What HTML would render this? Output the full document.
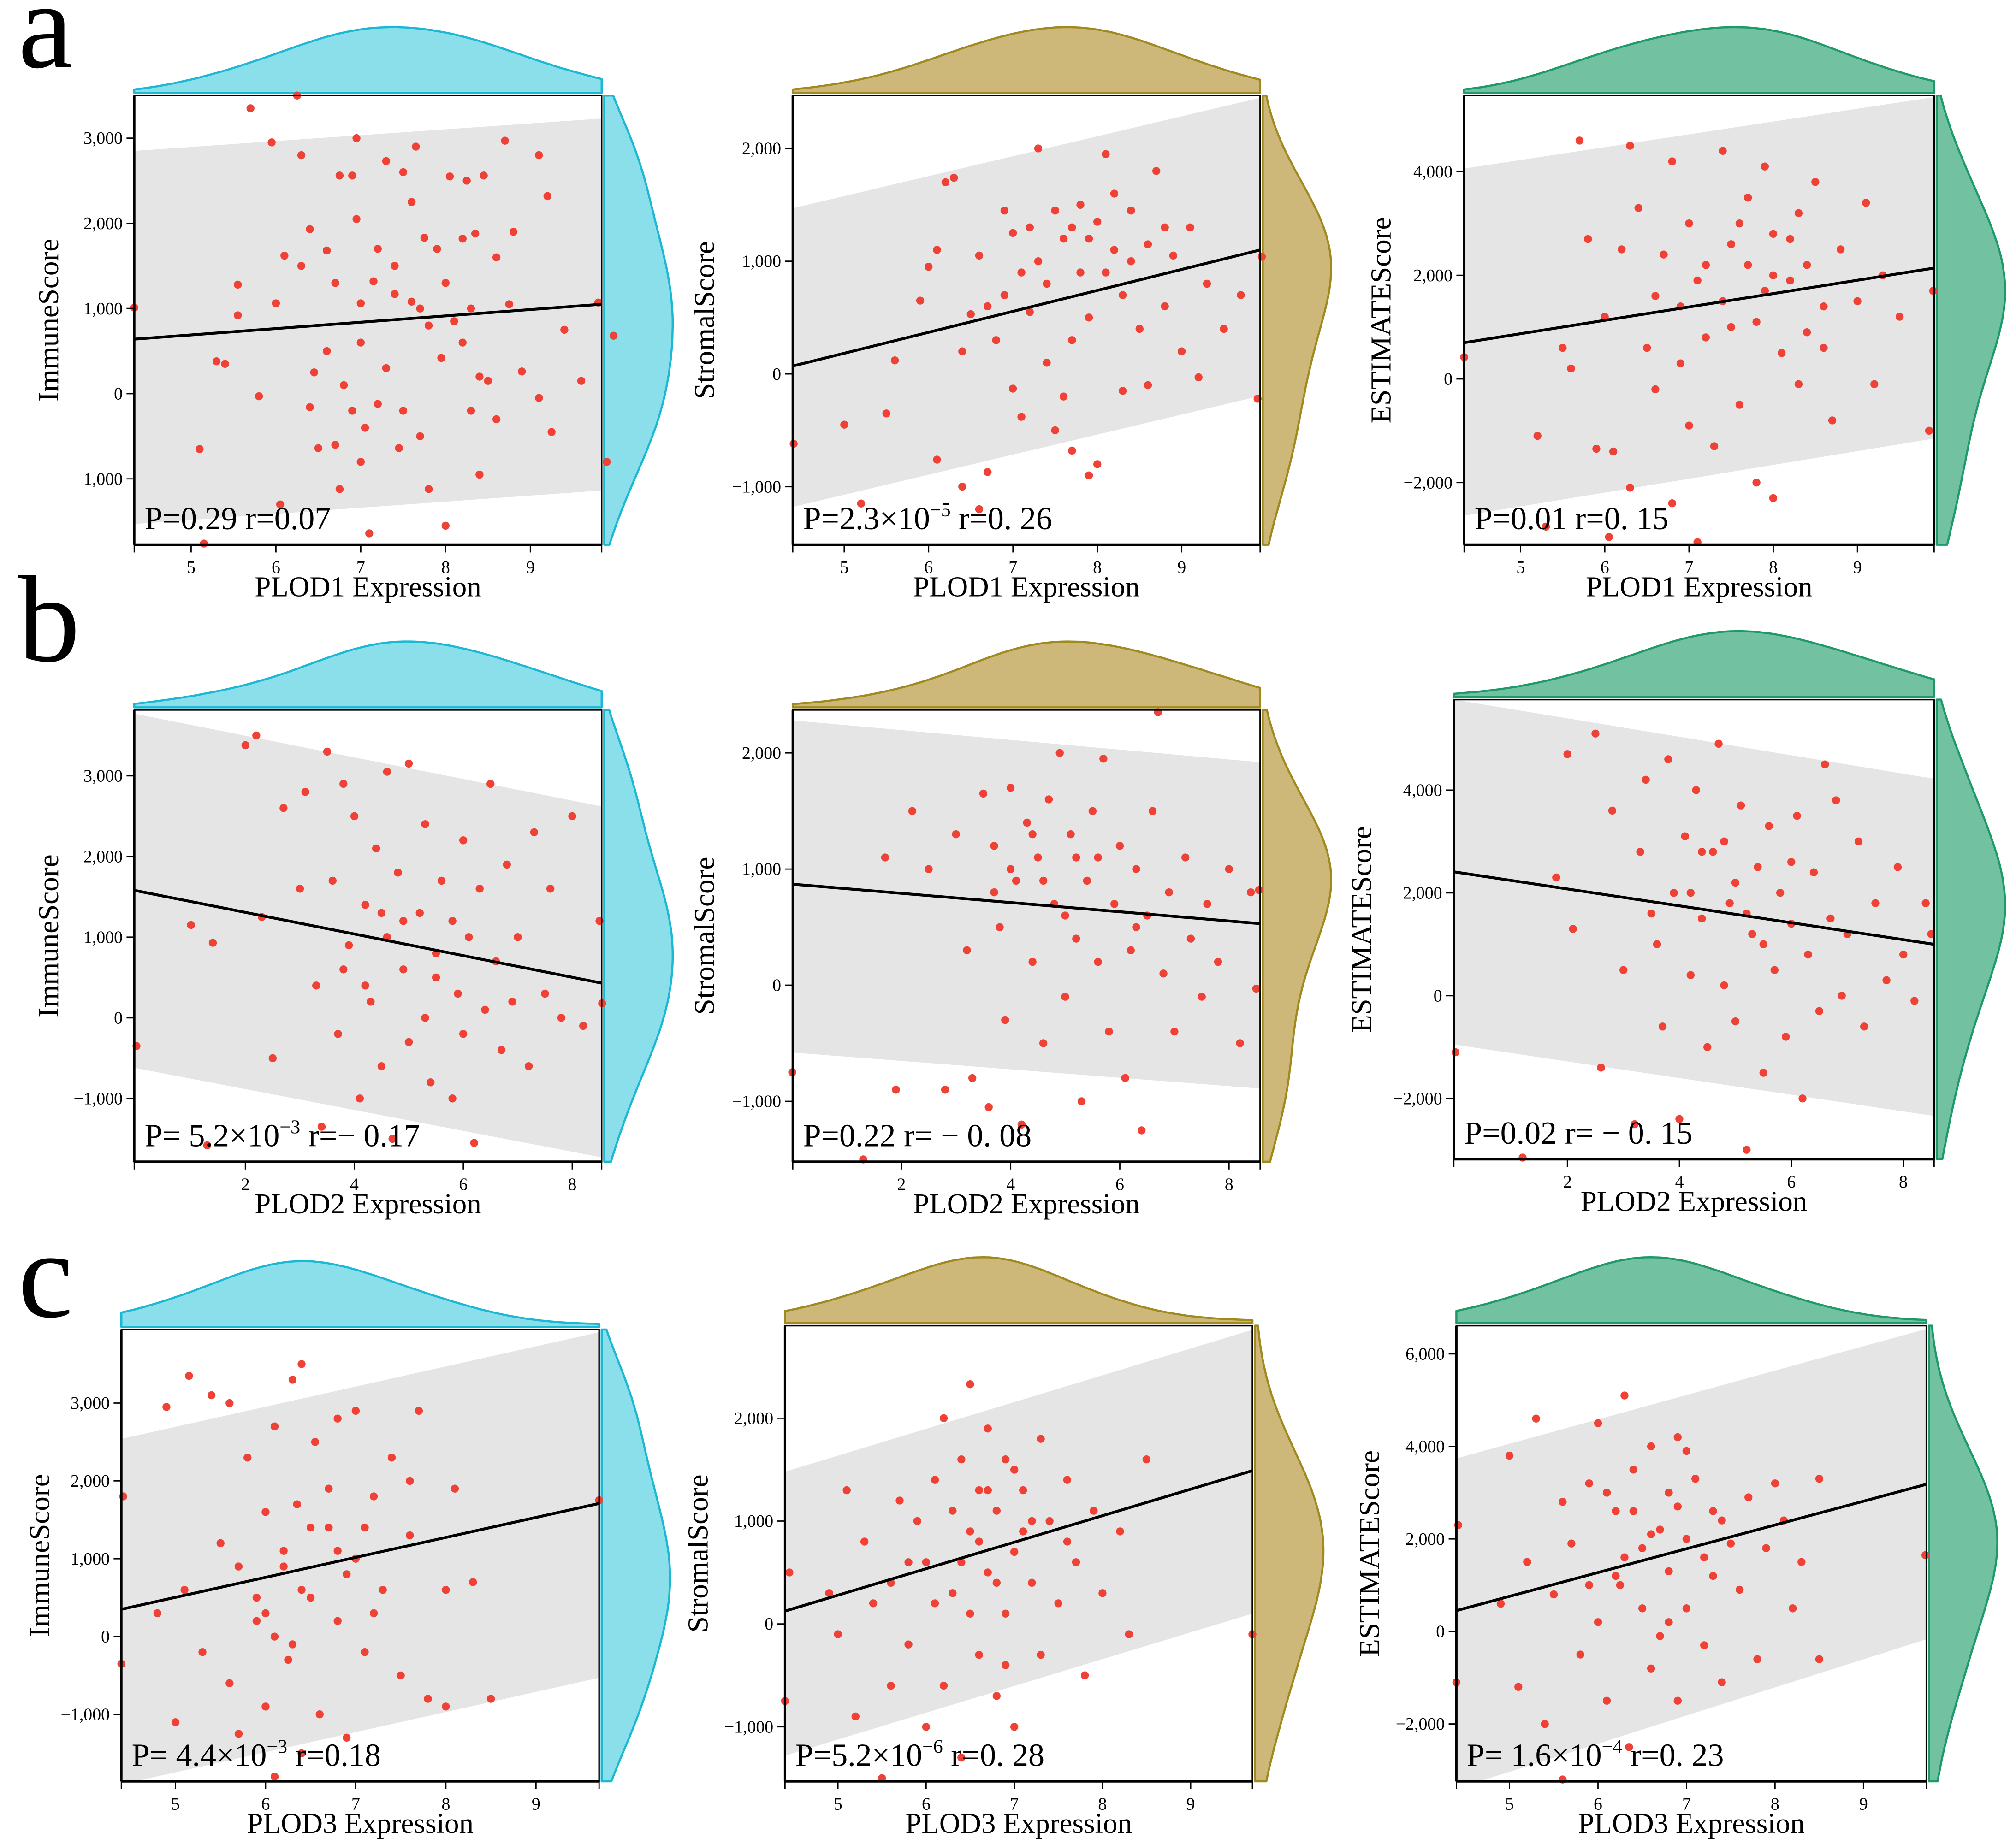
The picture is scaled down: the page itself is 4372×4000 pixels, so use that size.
<!DOCTYPE html>
<html><head><meta charset="utf-8">
<style>
html,body{margin:0;padding:0;background:#fff;}
svg{display:block;}
text{font-family:"Liberation Serif",serif;fill:#000;}
</style></head>
<body>
<svg id="fig" width="4372" height="4000" viewBox="0 0 1561.43 1428.57" xmlns="http://www.w3.org/2000/svg"></svg>
<script>
// ---- data ----
const panelIds = ['a1','a2','a3','b1','b2','b3','c1','c2','c3'];
const xTitles = ['PLOD1 Expression','PLOD1 Expression','PLOD1 Expression','PLOD2 Expression','PLOD2 Expression','PLOD2 Expression','PLOD3 Expression','PLOD3 Expression','PLOD3 Expression'];
const yTitles = ['ImmuneScore','StromalScore','ESTIMATEScore','ImmuneScore','StromalScore','ESTIMATEScore','ImmuneScore','StromalScore','ESTIMATEScore'];
const xDomains = [[4.33,9.84],[4.39,9.93],[4.33,9.91],[-0.04,8.54],[0.01,8.57],[-0.03,8.55],[4.4,9.7],[4.4,9.7],[4.4,9.71]];
const yDomains = [[-1773,3500],[-1515,2470],[-3200,5470],[-1784,3816],[-1520,2370],[-3180,5760],[-1860,3945],[-1530,2900],[-3240,6610]];
const xTickSets = [[5,6,7,8,9],[5,6,7,8,9],[5,6,7,8,9],[2,4,6,8],[2,4,6,8],[2,4,6,8],[5,6,7,8,9],[5,6,7,8,9],[5,6,7,8,9]];
const yTickSets = [[-1000,0,1000,2000,3000],[-1000,0,1000,2000],[-2000,0,2000,4000],[-1000,0,1000,2000,3000],[-1000,0,1000,2000],[-2000,0,2000,4000],[-1000,0,1000,2000,3000],[-1000,0,1000,2000],[-2000,0,2000,4000,6000]];
const fitLines = [[640,1050],[70,1100],[700,2140],[1580,430],[870,530],[2410,1000],[350,1710],[125,1490],[450,3180]];
const bandUpper = [[2850,3230],[1470,2450],[4060,5440],[3770,2620],[2280,1920],[5760,4220],[2540,3910],[1480,2860],[3740,6540]];
const bandLower = [[-1530,-1136],[-1180,-195],[-2640,-1150],[-620,-1730],[-580,-890],[-950,-2340],[-1900,-530],[-1280,100],[-3400,-170]];
const statP = ['0.29','2.3×10','0.01',' 5.2×10','0.22','0.02',' 4.4×10','5.2×10',' 1.6×10'];
const statExp = ['','−5','','−3','','','−3','−6','−4'];
const statR = ['r=0.07','r=0. 26','r=0. 15','r=− 0.17','r= − 0. 08','r= − 0. 15','r=0.18','r=0. 28','r=0. 23'];
const ptsA1 = [[5.1,-650],[5.15,-1760],[5.3,380],[5.4,350],[5.55,1280],[5.7,3350],[5.55,920],[5.8,-30],[5.95,2950],[6.0,1060],[6.05,-1300],[6.1,1620],[6.25,3500],[6.3,2800],[6.4,1930],[6.4,-160],[6.45,250],[6.5,-640],[6.6,1680],[6.7,1300],[6.75,2560],[6.7,-600],[6.75,-1120],[6.9,2560],[6.95,3000],[6.95,2050],[7.0,1060],[7.05,-400],[7.1,-1640],[7.15,1320],[7.2,-120],[7.3,2730],[7.4,1170],[7.45,-640],[7.5,2600],[7.6,1080],[7.6,2250],[7.65,2900],[7.7,-500],[7.75,1830],[7.8,-1120],[7.9,1700],[7.95,420],[8.0,-1550],[8.05,2550],[8.1,850],[8.2,1820],[8.25,2500],[8.3,-200],[8.35,1880],[8.4,-950],[8.45,2560],[8.5,150],[8.6,1600],[8.7,2970],[8.75,1050],[8.8,1900],[8.9,260],[9.1,2800],[9.1,-50],[9.2,2320],[9.25,-450],[9.4,750],[9.6,150],[9.8,1070],[9.9,-800],[9.98,680],[4.33,1010],[7.0,600],[7.3,300],[6.9,-200],[7.8,800],[8.2,600],[7.5,-200],[6.6,500],[8.4,200],[7.2,1700],[8.0,1300],[6.3,1500],[7.0,-800],[8.6,-300],[6.8,100],[7.7,1000],[8.3,1000],[7.4,1500]];
const ptsA2 = [[4.4,-620],[5.0,-450],[5.2,-1150],[5.5,-350],[5.6,120],[5.9,650],[6.0,950],[6.1,-760],[6.1,1100],[6.2,1700],[6.3,1740],[6.4,-1000],[6.5,530],[6.6,-1200],[6.6,1050],[6.7,-870],[6.8,300],[6.9,1450],[7.0,1250],[7.0,-130],[7.1,-380],[7.2,1300],[7.2,550],[7.3,2000],[7.4,800],[7.5,1450],[7.5,-500],[7.6,1200],[7.7,-680],[7.7,300],[7.8,1500],[7.8,900],[7.9,-900],[8.0,1350],[8.0,-800],[8.1,1950],[8.2,1100],[8.3,-150],[8.3,700],[8.4,1450],[8.5,400],[8.6,1150],[8.6,-100],[8.7,1800],[8.8,600],[8.9,1050],[9.0,200],[9.1,1300],[9.2,-30],[9.3,800],[9.5,400],[9.7,700],[9.9,-220],[9.95,1040],[7.4,100],[7.9,500],[6.9,700],[8.2,1600],[7.1,900],[6.4,200],[7.6,-200],[8.8,1300],[7.3,1000],[7.7,1300],[8.1,900],[6.7,600],[8.4,1000],[7.9,1200]];
const ptsA3 = [[4.33,420],[5.2,-1100],[5.3,-2850],[5.5,600],[5.6,200],[5.7,4600],[5.8,2700],[5.9,-1350],[6.0,1200],[6.05,-3050],[6.1,-1400],[6.2,2500],[6.3,4500],[6.3,-2100],[6.4,3300],[6.5,600],[6.6,-200],[6.7,2400],[6.8,4200],[6.8,-2400],[6.9,1400],[7.0,-900],[7.0,3000],[7.1,-3150],[7.2,2200],[7.3,-1300],[7.4,4400],[7.5,1000],[7.6,3000],[7.6,-500],[7.7,2200],[7.8,-2000],[7.9,1700],[7.9,4100],[8.0,-2300],[8.0,2800],[8.1,500],[8.2,1900],[8.3,3200],[8.3,-100],[8.4,900],[8.5,3800],[8.6,1400],[8.7,-800],[8.8,2500],[9.0,1500],[9.1,3400],[9.2,-100],[9.3,2000],[9.5,1200],[9.9,1700],[9.85,-1000],[7.2,800],[7.8,1100],[6.9,300],[8.2,2700],[7.5,2600],[6.6,1600],[8.6,600],[7.1,1900],[7.4,1500],[8.0,2000],[7.7,3500],[8.4,2200]];
const ptsB1 = [[0,-350],[1.0,1150],[1.3,-1580],[1.4,930],[2.0,3380],[2.2,3500],[2.3,1250],[2.5,-500],[2.7,2600],[3.0,1600],[3.1,2800],[3.3,400],[3.4,-1350],[3.5,3300],[3.6,1700],[3.7,-200],[3.8,2900],[3.9,900],[4.0,2500],[4.1,-1000],[4.2,1400],[4.3,200],[4.4,2100],[4.5,-600],[4.6,3050],[4.6,1000],[4.7,-1500],[4.8,1800],[4.9,600],[5.0,3150],[5.0,-300],[5.2,1300],[5.3,2400],[5.4,-800],[5.5,800],[5.6,1700],[5.8,-1000],[5.9,300],[6.0,2200],[6.1,1000],[6.2,-1550],[6.3,1600],[6.4,100],[6.5,2900],[6.6,700],[6.7,-400],[6.8,1900],[6.9,200],[7.0,1000],[7.2,-600],[7.3,2300],[7.5,300],[7.6,1600],[7.8,0],[8.0,2500],[8.2,-100],[8.5,1200],[8.55,180],[4.5,1300],[5.5,500],[3.8,600],[6.0,-200],[4.9,1200],[5.3,0],[4.2,400],[5.8,1200]];
const ptsB2 = [[0,-750],[1.3,-1500],[1.7,1100],[1.9,-900],[2.2,1500],[2.5,1000],[2.8,-900],[3.0,1300],[3.2,300],[3.3,-800],[3.5,1650],[3.6,-1050],[3.7,1200],[3.8,500],[3.9,-300],[4.0,1700],[4.1,900],[4.2,-1200],[4.3,1400],[4.4,200],[4.5,1100],[4.6,-500],[4.7,1600],[4.8,700],[4.9,2000],[5.0,-100],[5.1,1300],[5.2,400],[5.3,-1000],[5.4,900],[5.5,1500],[5.6,200],[5.7,1950],[5.8,-400],[5.9,700],[6.0,1200],[6.1,-800],[6.2,300],[6.3,1000],[6.4,-1250],[6.5,600],[6.6,1500],[6.7,2350],[6.8,100],[6.9,800],[7.0,-400],[7.2,1100],[7.3,400],[7.5,-100],[7.6,700],[7.8,200],[8.0,1000],[8.2,-500],[8.4,800],[8.5,-30],[8.55,820],[4.6,900],[5.2,1100],[3.7,800],[6.3,500],[4.4,1300],[5.0,600],[5.6,1100],[4.0,1000]];
const ptsB3 = [[0,-1100],[1.2,-3150],[1.8,2300],[2.0,4700],[2.1,1300],[2.5,5100],[2.6,-1400],[2.8,3600],[3.0,500],[3.2,-2500],[3.3,2800],[3.4,4200],[3.6,1000],[3.7,-600],[3.8,4600],[3.9,2000],[4.0,-2400],[4.1,3100],[4.2,400],[4.3,4000],[4.4,1500],[4.5,-1000],[4.6,2800],[4.7,4900],[4.8,200],[4.9,1800],[5.0,-500],[5.1,3700],[5.2,-3000],[5.3,1200],[5.4,2500],[5.5,-1500],[5.6,3300],[5.7,500],[5.8,2000],[5.9,-800],[6.0,1400],[6.1,3500],[6.2,-2000],[6.3,800],[6.4,2400],[6.5,-300],[6.6,4500],[6.7,1500],[6.8,3800],[6.9,0],[7.0,1200],[7.2,3000],[7.3,-600],[7.5,1800],[7.7,300],[7.9,2500],[8.0,800],[8.2,-100],[8.4,1800],[8.5,1200],[5.0,2200],[4.4,2800],[6.0,2600],[3.5,1600],[4.8,3000],[5.5,1000],[4.2,2000],[5.2,1600]];
const ptsC1 = [[4.4,-350],[4.42,1800],[4.8,300],[4.9,2950],[5.0,-1100],[5.1,600],[5.15,3350],[5.3,-200],[5.4,3100],[5.5,1200],[5.6,3000],[5.6,-600],[5.7,-1250],[5.8,2300],[5.9,200],[6.0,1600],[6.0,-900],[6.1,2700],[6.1,-1800],[6.2,900],[6.25,-300],[6.3,3300],[6.35,1700],[6.4,-1500],[6.4,3500],[6.5,500],[6.55,2500],[6.6,-1000],[6.7,1400],[6.8,200],[6.8,2800],[6.9,-1300],[7.0,1000],[7.0,2900],[7.1,-200],[7.2,1800],[7.3,600],[7.4,2300],[7.5,-500],[7.6,1300],[7.7,2900],[7.8,-800],[8.0,600],[8.0,-900],[8.3,700],[8.5,-800],[9.7,1750],[6.2,1100],[5.9,500],[6.7,1900],[6.3,-100],[6.9,800],[5.7,900],[7.2,300],[6.5,1400],[6.0,300],[7.6,2000],[8.1,1900],[6.4,600],[6.1,0],[6.8,1100],[7.1,1400]];
const ptsC2 = [[4.4,-750],[4.45,500],[4.9,300],[5.0,-100],[5.1,1300],[5.2,-900],[5.3,800],[5.4,200],[5.5,-1500],[5.6,400],[5.7,1200],[5.8,-200],[5.9,1000],[6.0,-1000],[6.0,600],[6.1,1400],[6.2,-600],[6.2,2000],[6.3,300],[6.4,1600],[6.4,-1300],[6.5,900],[6.5,2330],[6.6,-300],[6.6,1300],[6.7,500],[6.7,1900],[6.8,-700],[6.8,1100],[6.9,1600],[6.9,100],[7.0,700],[7.0,-1000],[7.1,1300],[7.2,400],[7.3,1800],[7.3,-300],[7.4,1000],[7.5,200],[7.6,1400],[7.7,600],[7.8,-500],[7.9,1100],[8.0,300],[8.2,900],[8.3,-100],[8.5,1600],[9.7,-100],[6.3,1100],[6.6,800],[6.1,200],[7.0,1500],[5.8,600],[6.8,400],[7.2,1000],[6.4,600],[5.6,-600],[6.9,-400],[7.6,800],[6.7,1300],[7.1,900],[6.5,100]];
const ptsC3 = [[4.4,-1100],[4.42,2300],[4.9,600],[5.0,3800],[5.1,-1200],[5.2,1500],[5.3,4600],[5.4,-2000],[5.5,800],[5.6,2800],[5.6,-3200],[5.7,1900],[5.8,-500],[5.9,3200],[6.0,200],[6.0,4500],[6.1,-1500],[6.2,2600],[6.25,1000],[6.3,5100],[6.35,-2500],[6.4,3500],[6.5,500],[6.5,1800],[6.6,-800],[6.6,4000],[6.7,2200],[6.7,-100],[6.8,3000],[6.8,1300],[6.9,-1500],[6.9,4200],[7.0,2000],[7.0,500],[7.1,3300],[7.2,-300],[7.2,1600],[7.3,2600],[7.4,-1100],[7.5,1900],[7.6,900],[7.7,2900],[7.8,-600],[7.9,1800],[8.0,3200],[8.2,500],[8.3,1500],[8.5,-600],[8.5,3300],[9.7,1650],[6.2,1200],[6.4,2600],[5.9,1000],[6.8,200],[7.4,2400],[6.1,3000],[7.0,3900],[8.1,2400],[6.3,1600],[6.6,2100],[6.9,2700],[7.3,1200]];
const allPoints = [ptsA1,ptsA2,ptsA3,ptsB1,ptsB2,ptsB3,ptsC1,ptsC2,ptsC3];

// ---- layout (not data) ----
const boxes = [[104,74,466,422],[614,74,976,422],[1134,74,1498,422],[104,550,466,900],[614,550,976,900],[1126,542,1498,898],[94,1030,464,1380],[608,1027,970,1380],[1128,1027,1492,1380]];
const yTitleX = [45,553,1077,45,553,1062,38,548,1068];
const palettes = [['#8adfeb','#1bb8d4'],['#cdb87a','#a08a20'],['#72c2a2','#1e9a6a']];
const NS='http://www.w3.org/2000/svg';
const svg=document.getElementById('fig');
function mk(tag,attrs,parent){const e=document.createElementNS(NS,tag);for(const k in attrs)e.setAttribute(k,attrs[k]);(parent||svg).appendChild(e);return e;}

function kde(vals,lo,hi,n,bw){const out=[];for(let i=0;i<=n;i++){const x=lo+(hi-lo)*i/n;let s=0;for(const v of vals){const z=(x-v)/bw;s+=Math.exp(-0.5*z*z);}out.push([x,s]);}
  const m=Math.max(...out.map(d=>d[1]));const mn=Math.min(out[0][1],out[n][1]);
  return out.map(d=>[d[0],Math.max(0,(d[1]-mn*0.85)/(m-mn*0.85))]);}

panelIds.forEach((pid,i)=>{
  const [L,T,R,B]=boxes[i];
  const xd=xDomains[i], yd=yDomains[i];
  const sx=v=>L+(v-xd[0])/(xd[1]-xd[0])*(R-L);
  const sy=v=>B-(v-yd[0])/(yd[1]-yd[0])*(B-T);
  const pal=palettes[i%3];
  const g=mk('g',{});
  
  
  const cp=mk('clipPath',{id:'clip'+i},g);
  mk('rect',{x:L,y:T,width:R-L,height:B-T},cp);
  const pts=allPoints[i];
  // top density
  const dx=kde(pts.map(p=>p[0]),xd[0],xd[1],80,(xd[1]-xd[0])*0.12);
  let d='M'+L+','+(T-2);
  dx.forEach(p=>{d+=' L'+sx(p[0]).toFixed(1)+','+(T-2-2-p[1]*49).toFixed(1);});
  d+=' L'+R+','+(T-2)+' Z';
  const td=mk('path',{d:d,fill:pal[0],stroke:pal[1],'stroke-width':1.6,'stroke-linejoin':'round'},g);
  
  
  // right density
  const dy=kde(pts.map(p=>p[1]),yd[0],yd[1],80,(yd[1]-yd[0])*0.12);
  d='M'+(R+2)+','+B;
  dy.forEach(p=>{d+=' L'+(R+2+2+p[1]*51).toFixed(1)+','+sy(p[0]).toFixed(1);});
  d+=' L'+(R+2)+','+T+' Z';
  const rd=mk('path',{d:d,fill:pal[0],stroke:pal[1],'stroke-width':1.6,'stroke-linejoin':'round'},g);
  
  
  // band
  const band=mk('polygon',{points:`${L},${sy(bandUpper[i][0])} ${R},${sy(bandUpper[i][1])} ${R},${sy(bandLower[i][1])} ${L},${sy(bandLower[i][0])}`,fill:'#e5e5e5','clip-path':`url(#clip${i})`},g);
  
  
  // points
  pts.forEach(p=>{
    const c=mk('circle',{cx:sx(p[0]).toFixed(1),cy:sy(p[1]).toFixed(1),r:3.1,fill:'#ef4136'},g);
    
    
  });
  // fit line
  const fl=mk('line',{x1:L,y1:sy(fitLines[i][0]),x2:R,y2:sy(fitLines[i][1]),stroke:'#000','stroke-width':2.2},g);
  
  
  // frame
  const fr=mk('rect',{x:L,y:T,width:R-L,height:B-T,fill:'none',stroke:'#000','stroke-width':1.2},g);
  
  
  mk('line',{x1:L,y1:T,x2:L,y2:B,stroke:'#000','stroke-width':1.8},g);
  mk('line',{x1:L,y1:B,x2:R,y2:B,stroke:'#000','stroke-width':2},g);
  // x ticks
  mk('line',{x1:L,y1:B,x2:L,y2:B+6,stroke:'#000','stroke-width':1},g);
  mk('line',{x1:R,y1:B,x2:R,y2:B+6,stroke:'#000','stroke-width':1},g);
  xTickSets[i].forEach(v=>{
    mk('line',{x1:sx(v),y1:B,x2:sx(v),y2:B+6,stroke:'#000','stroke-width':1},g);
    const t=mk('text',{x:sx(v),y:B+22,'font-size':13.5,'text-anchor':'middle'},g);
    t.textContent=v;
    
    
  });
  yTickSets[i].forEach(v=>{
    mk('line',{x1:L-6,y1:sy(v),x2:L,y2:sy(v),stroke:'#000','stroke-width':1},g);
    const t=mk('text',{x:L-9,y:sy(v)+4.5,'font-size':13.5,'text-anchor':'end'},g);
    t.textContent=v===0?'0':(v<0?'−':'')+Math.abs(v).toLocaleString('en-US');
    
    
  });
  // titles
  const xt=mk('text',{x:(L+R)/2,y:B+40,'font-size':22.5,'text-anchor':'middle'},g);
  xt.textContent=xTitles[i];
  
  
  const cy=(T+B)/2, cx=yTitleX[i];
  const yt=mk('text',{x:cx,y:cy,'font-size':22.5,'text-anchor':'middle',transform:`rotate(-90 ${cx} ${cy})`},g);
  yt.textContent=yTitles[i];
  
  
  // stats
  const st=mk('text',{x:L+8,y:B-12,'font-size':25},g);
  
  
  const s1=mk('tspan',{},st); s1.textContent='P='+statP[i];
  if(statExp[i]){const s2=mk('tspan',{dy:-10,'font-size':15},st); s2.textContent=statExp[i];
    const s3=mk('tspan',{dy:10},st); s3.textContent=' '+statR[i];}
  else{const s3=mk('tspan',{},st); s3.textContent=' '+statR[i];}
});
[['a',14,52],['b',14,512],['c',14,1020]].forEach(([l,x,y])=>{
  const t=mk('text',{x:x,y:y,'font-size':96});
  t.textContent=l;
  
  
});
</script>
</body></html>
